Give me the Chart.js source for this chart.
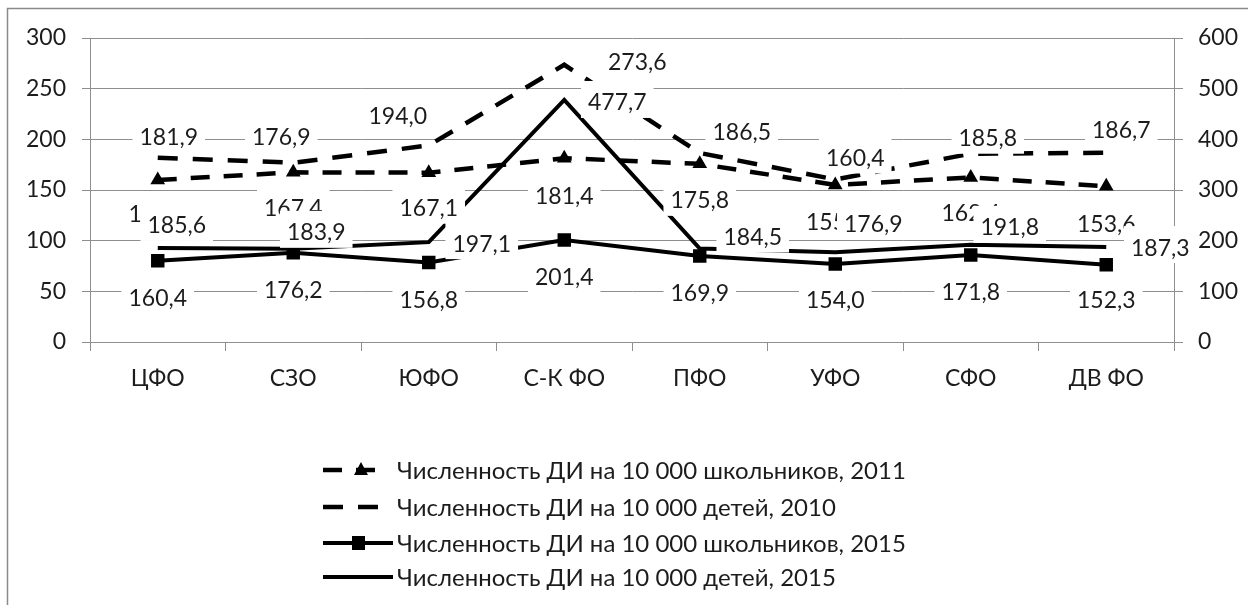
<!DOCTYPE html>
<html>
<head>
<meta charset="utf-8">
<script src="https://cdn.jsdelivr.net/npm/chart.js@4/dist/chart.umd.min.js"></script>
<style>
  html, body { margin: 0; padding: 0; background: #ffffff; }
  #wrap { position: relative; width: 1248px; height: 605px; }
</style>
</head>
<body>
<div id="wrap"><canvas id="c"></canvas></div>
<script>
// ---- data ----
const categories = ['ЦФО', 'СЗО', 'ЮФО', 'С-К ФО', 'ПФО', 'УФО', 'СФО', 'ДВ ФО'];
const pupils2011 = [159.9, 167.4, 167.1, 181.4, 175.8, 155.0, 162.4, 153.6];
const children2010 = [181.9, 176.9, 194.0, 273.6, 186.5, 160.4, 185.8, 186.7];
const pupils2015 = [160.4, 176.2, 156.8, 201.4, 169.9, 154.0, 171.8, 152.3];
const children2015 = [185.6, 183.9, 197.1, 477.7, 184.5, 176.9, 191.8, 187.3];
const leftTicks = [0, 50, 100, 150, 200, 250, 300];
const rightTicks = [0, 100, 200, 300, 400, 500, 600];
const seriesNames = [
  'Численность ДИ на 10 000 школьников, 2011',
  'Численность ДИ на 10 000 детей, 2010',
  'Численность ДИ на 10 000 школьников, 2015',
  'Численность ДИ на 10 000 детей, 2015'
];

// ---- styles / label placement ----
const FONT = 'Lato';
const FS = 23;
const LFS = 24;
const TXT = '#1c1c1c';
const GRID = '#8e8e8e';
const labelOffsets = [
  [[0,34],[0,35],[0,35],[0,37],[0,36],[0,37],[0,35],[0,37]],
  [[11,-21],[-12,-26],[-31,-30],[73,-3],[42,-21],[20,-22],[17,-16],[15,-23]],
  [[0,37],[0,37],[0,37],[0,37],[0,37],[0,36],[0,37],[0,35]],
  [[19,-23],[23,-17],[53,1],[53,2],[53,-12],[38,-29],[39,-18],[54,0]]
];

const fmt = v => v.toFixed(1).replace('.', ',');

const frameAndLabels = {
  id: 'frameAndLabels',
  beforeDraw(chart) {
    const ctx = chart.ctx;
    ctx.save();
    ctx.strokeStyle = '#8a8a8a';
    ctx.lineWidth = 1.5;
    ctx.beginPath();
    ctx.moveTo(7.5, 605);
    ctx.lineTo(7.5, 8.5);
    ctx.lineTo(1248, 8.5);
    ctx.stroke();
    ctx.restore();
  },
  afterDatasetsDraw(chart) {
    const ctx = chart.ctx;
    ctx.save();
    ctx.font = FS + 'px ' + FONT;
    ctx.textAlign = 'center';
    ctx.textBaseline = 'middle';
    chart.data.datasets.forEach((ds, i) => {
      const meta = chart.getDatasetMeta(i);
      meta.data.forEach((pt, j) => {
        const txt = fmt(ds.data[j]);
        const off = labelOffsets[i][j];
        const x = pt.x + off[0];
        const y = pt.y + off[1];
        const w = ctx.measureText(txt).width;
        ctx.fillStyle = '#ffffff';
        ctx.fillRect(x - w / 2 - 7, y - 21, w + 14, 37);
        ctx.fillStyle = TXT;
        ctx.fillText(txt, x, y + 1);
      });
    });
    ctx.restore();
  },
  afterDraw(chart) {
    const ctx = chart.ctx;
    const rows = [470, 507, 543, 577];
    ctx.save();
    ctx.font = LFS + 'px ' + FONT;
    ctx.textAlign = 'left';
    ctx.textBaseline = 'middle';
    rows.forEach((y, i) => {
      const ds = chart.data.datasets[i];
      ctx.strokeStyle = '#000';
      ctx.lineWidth = ds.borderWidth;
      ctx.setLineDash(ds.borderDash || []);
      ctx.beginPath();
      ctx.moveTo(323, y);
      ctx.lineTo(ds.borderDash && ds.borderDash.length ? 379 : 393, y);
      ctx.stroke();
      ctx.setLineDash([]);
      ctx.fillStyle = '#000';
      if (i === 0) {
        ctx.beginPath();
        ctx.moveTo(361, y - 8);
        ctx.lineTo(368, y + 5);
        ctx.lineTo(354, y + 5);
        ctx.closePath();
        ctx.fill();
      } else if (i === 2) {
        ctx.fillRect(352, y - 7, 13, 14);
      }
      ctx.fillStyle = TXT;
      ctx.fillText(seriesNames[i], 397, y + 1);
    });
    ctx.restore();
  }
};

new Chart(document.getElementById('c'), {
  type: 'line',
  data: {
    labels: categories,
    datasets: [
      { label: seriesNames[0], data: pupils2011, yAxisID: 'y',
        borderColor: '#000', backgroundColor: '#000', borderWidth: 4.5, borderDash: [19, 14],
        pointStyle: 'triangle', pointRadius: 8.5, pointBorderWidth: 0, pointBackgroundColor: '#000' },
      { label: seriesNames[1], data: children2010, yAxisID: 'y',
        borderColor: '#000', backgroundColor: '#000', borderWidth: 4.5, borderDash: [20, 15],
        pointRadius: 0 },
      { label: seriesNames[2], data: pupils2015, yAxisID: 'y2',
        borderColor: '#000', backgroundColor: '#000', borderWidth: 4,
        pointStyle: 'rect', pointRadius: 9.5, pointBorderWidth: 0, pointBackgroundColor: '#000' },
      { label: seriesNames[3], data: children2015, yAxisID: 'y2',
        borderColor: '#000', backgroundColor: '#000', borderWidth: 4,
        pointRadius: 0 }
    ]
  },
  options: {
    responsive: true,
    maintainAspectRatio: false,
    animation: false,
    layout: { padding: { top: 38, left: 0, right: 0, bottom: 0 } },
    plugins: { legend: { display: false }, tooltip: { enabled: false } },
    elements: { line: { tension: 0, fill: false } },
    scales: {
      x: {
        offset: true,
        grid: { offset: true, drawOnChartArea: false, tickLength: 9, color: GRID, lineWidth: 1 },
        border: { color: GRID },
        ticks: { font: { family: FONT, size: FS }, color: TXT, padding: 14, maxRotation: 0 },
        afterFit(s) { s.height = 263; }
      },
      y: {
        position: 'left', min: 0, max: 300,
        afterBuildTicks(s) { s.ticks = leftTicks.map(v => ({ value: v })); },
        grid: { color: GRID, tickLength: 8, lineWidth: 1 },
        border: { color: GRID },
        ticks: { font: { family: FONT, size: FS }, color: TXT, padding: 16 },
        afterFit(s) { s.width = 90; }
      },
      y2: {
        position: 'right', min: 0, max: 600,
        afterBuildTicks(s) { s.ticks = rightTicks.map(v => ({ value: v })); },
        grid: { drawOnChartArea: false, color: GRID, tickLength: 9, lineWidth: 1 },
        border: { color: GRID },
        ticks: { font: { family: FONT, size: FS }, color: TXT, padding: 15 },
        afterFit(s) { s.width = 74; }
      }
    }
  },
  plugins: [frameAndLabels]
});
</script>
</body>
</html>
